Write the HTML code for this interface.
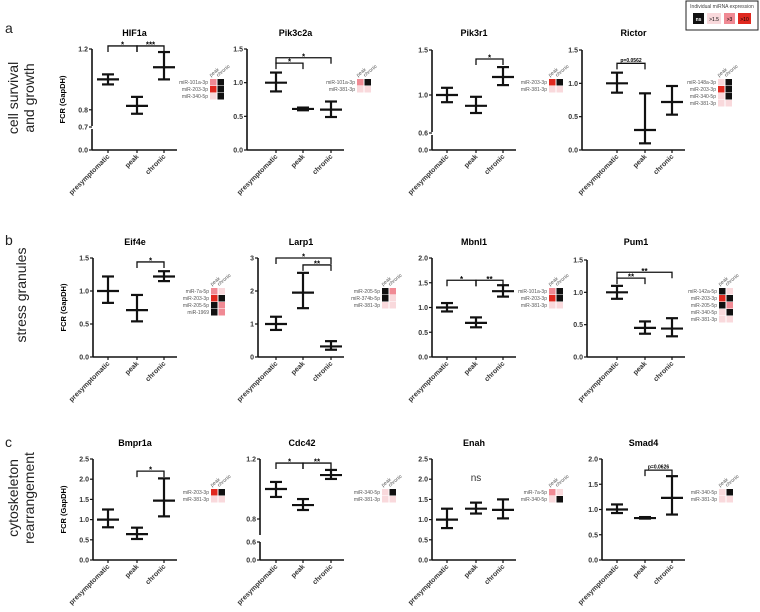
<!DOCTYPE html>
<html><head><meta charset="utf-8"><style>
html,body{margin:0;padding:0;background:#fff}
svg{display:block;font-family:"Liberation Sans",Arial,sans-serif}
</style></head><body>
<svg id="fig" width="760" height="612" viewBox="0 0 760 612">
<g>
<rect x="686" y="1" width="72" height="29" fill="#fff" stroke="#222" stroke-width="1"/>
<text x="722" y="8" font-size="5" text-anchor="middle" fill="#444">Individual miRNA expression</text>
<rect x="693" y="13" width="11" height="11" fill="#111"/><text x="698.5" y="21" font-size="5" fill="#fff" text-anchor="middle" font-weight="bold">ns</text>
<rect x="707" y="13" width="14" height="11" fill="#f9d9dc"/><text x="714" y="21" font-size="5" text-anchor="middle">&gt;1.5</text>
<rect x="724" y="13" width="11" height="11" fill="#f08a94"/><text x="729.5" y="21" font-size="5" text-anchor="middle">&gt;3</text>
<rect x="738" y="13" width="13" height="11" fill="#e0281f"/><text x="744.5" y="21" font-size="5" text-anchor="middle">&gt;10</text>
</g>
<g font-size="14" fill="#222">
<text x="5" y="33">a</text>
<text x="5" y="245">b</text>
<text x="5" y="447">c</text>
<text transform="translate(18,98) rotate(-90)" text-anchor="middle">cell survival</text>
<text transform="translate(34,98) rotate(-90)" text-anchor="middle">and growth</text>
<text transform="translate(26,295) rotate(-90)" text-anchor="middle">stress granules</text>
<text transform="translate(18,498) rotate(-90)" text-anchor="middle">cytoskeleton</text>
<text transform="translate(34,498) rotate(-90)" text-anchor="middle">rearrangement</text>
</g>
</svg>
<script>
// ---- data ----
const categories = ["presymptomatic","peak","chronic"];
const titles = ["HIF1a","Pik3c2a","Pik3r1","Rictor","Eif4e","Larp1","Mbnl1","Pum1","Bmpr1a","Cdc42","Enah","Smad4"];
const means = [[1.0,0.826,1.08],[1.0,0.61,0.6],[1.0,0.88,1.2],[1.0,0.3,0.72],[1.0,0.71,1.22],[1.0,1.95,0.32],[1.0,0.69,1.33],[1.0,0.45,0.44],[1.0,0.64,1.47],[1.0,0.893,1.093],[1.0,1.27,1.24],[1.0,0.83,1.23]];
const lows = [[0.967,0.774,1.0],[0.87,0.59,0.49],[0.92,0.8,1.11],[0.86,0.1,0.53],[0.82,0.54,1.15],[0.82,1.48,0.22],[0.92,0.6,1.22],[0.9,0.36,0.32],[0.81,0.52,1.08],[0.947,0.86,1.067],[0.79,1.15,1.03],[0.93,0.82,0.9]];
const highs = [[1.033,0.885,1.18],[1.15,0.63,0.72],[1.08,0.98,1.31],[1.16,0.85,0.96],[1.22,0.94,1.3],[1.22,2.55,0.48],[1.09,0.8,1.45],[1.1,0.55,0.6],[1.25,0.8,2.02],[1.047,0.933,1.127],[1.27,1.42,1.5],[1.1,0.85,1.66]];
const yMin = [0.7,0,0.6,0,0,0,0,0,0,0.8,0,0];
const yMax = [1.2,1.5,1.5,1.5,1.5,3,2,1.5,2.5,1.2,2.5,2];
const tickLabels = [["0.8","1.2"],["0.0","0.5","1.0","1.5"],["1.0","1.5"],["0.0","0.5","1.0","1.5"],["0.0","0.5","1.0","1.5"],["0","1","2","3"],["0.0","0.5","1.0","1.5","2.0"],["0.0","0.5","1.0","1.5"],["0.0","0.5","1.0","1.5","2.0","2.5"],["0.8","1.2"],["0.0","0.5","1.0","1.5","2.0","2.5"],["0.0","0.5","1.0","1.5","2.0"]];
const breakLabels = [["0.0","0.7"],[],["0.0","0.6"],[],[],[],[],[],[],["0.0","0.6"],[],[]];
// brackets: [panel, from, to, value, label]
const brackets = [[0,0,1,1.22,"*"],[0,1,2,1.22,"***"],[1,0,1,1.29,"*"],[1,0,2,1.37,"*"],[2,1,2,1.4,"*"],[3,0,1,1.3,"p=0.0562"],[4,1,2,1.44,"*"],[5,0,2,3.0,"*"],[5,1,2,2.79,"**"],[6,0,1,1.55,"*"],[6,1,2,1.55,"**"],[7,0,1,1.22,"**"],[7,0,2,1.31,"**"],[8,1,2,2.2,"*"],[9,0,1,1.173,"*"],[9,1,2,1.173,"**"],[11,1,2,1.78,"p=0.0626"]];
const heatNames = [["miR-101a-3p","miR-203-3p","miR-340-5p"],["miR-101a-3p","miR-381-3p"],["miR-203-3p","miR-381-3p"],["miR-148a-3p","miR-203-3p","miR-340-5p","miR-381-3p"],["miR-7a-5p","miR-203-3p","miR-205-5p","miR-1969"],["miR-205-5p","miR-374b-5p","miR-381-3p"],["miR-101a-3p","miR-203-3p","miR-381-3p"],["miR-142a-5p","miR-203-3p","miR-205-5p","miR-340-5p","miR-381-3p"],["miR-203-3p","miR-381-3p"],["miR-340-5p","miR-381-3p"],["miR-7a-5p","miR-340-5p"],["miR-340-5p","miR-381-3p"]];
const heatPeak = [[2,3,1],[2,1],[3,1],[1,3,1,1],[2,3,0,0],[0,0,1],[2,3,1],[0,3,0,1,1],[3,1],[1,1],[2,1],[1,1]];
const heatChronic = [[0,0,0],[0,1],[0,1],[0,0,0,1],[1,0,2,2],[2,1,1],[0,0,1],[1,0,2,0,1],[0,1],[0,1],[1,0],[0,1]];
// ---- layout ----
const heatColors = ["#111","#f9d9dc","#f08a94","#e0281f"];
const rowTop=[49,258,459], rowBot=[150,357,560];
const colCats=[[108,137,164],[276,303,331],[447,476,503],[617,645,672]];
const axisX=[92,247,432,582,93,258,432,587,93,260,432,602];
const heatX=[210,357,549,718,211,382,549,719,211,382,549,719];
const yTop=[49,49,50,50,258,258,258,260,459,459,459,459];
const yLow=[125,150,131,150,357,357,357,357,560,519,560,560];
const svg=document.getElementById('fig');
const NS='http://www.w3.org/2000/svg';
function mk(tag,attrs,parent){const e=document.createElementNS(NS,tag);for(const k in attrs)e.setAttribute(k,attrs[k]);parent.appendChild(e);return e;}
titles.forEach((t,i)=>{
  const r=Math.floor(i/4), c=i%4, top=rowTop[r], bot=rowBot[r];
  const ax=axisX[i], cx=colCats[c];
  const g=mk('g',{},svg);
  
  
  const y=v=>yLow[i]+(v-yMin[i])/(yMax[i]-yMin[i])*(yTop[i]-yLow[i]);
  const tt=mk('text',{x:(ax+cx[2]+13)/2,y:top-13,'font-size':9,'font-weight':'bold','text-anchor':'middle'},g);
  tt.textContent=t;
  
  
  const xEnd=cx[2]+13;
  const broken=breakLabels[i].length>0;
  if(broken){
    const upEnd = i===9? 535 : yLow[i]+1;
    mk('line',{x1:ax,y1:yTop[i],x2:ax,y2:upEnd,stroke:'#111','stroke-width':1.6},g);
    const lowStart = i===9? 542 : yLow[i]+4;
    mk('line',{x1:ax,y1:lowStart,x2:ax,y2:bot,stroke:'#111','stroke-width':1.6},g);
    const bl=[bot, i===9?542:yLow[i]+2];
    breakLabels[i].forEach((lb,k)=>{
      mk('line',{x1:ax-3,y1:bl[k],x2:ax,y2:bl[k],stroke:'#111','stroke-width':1.2},g);
      const tx=mk('text',{x:ax-4,y:bl[k]+2.5,'font-size':7,'font-weight':'bold','text-anchor':'end',fill:'#333'},g);
      tx.textContent=lb;
    });
  } else {
    mk('line',{x1:ax,y1:yTop[i],x2:ax,y2:bot,stroke:'#111','stroke-width':1.6},g);
  }
  tickLabels[i].forEach(lb=>{
    const yy=y(parseFloat(lb));
    mk('line',{x1:ax-3,y1:yy,x2:ax,y2:yy,stroke:'#111','stroke-width':1.2},g);
    const tx=mk('text',{x:ax-4,y:yy+2.5,'font-size':7,'font-weight':'bold','text-anchor':'end',fill:'#333'},g);
    tx.textContent=lb;
  });
  mk('line',{x1:ax,y1:bot,x2:xEnd,y2:bot,stroke:'#111','stroke-width':1.6},g);
  categories.forEach((cat,k)=>{
    mk('line',{x1:cx[k],y1:bot,x2:cx[k],y2:bot+3,stroke:'#111','stroke-width':1.2},g);
    const tx=mk('text',{transform:`translate(${cx[k]+2},${bot+7}) rotate(-45)`,'font-size':7,'font-weight':'bold','text-anchor':'end',fill:'#333'},g);
    tx.textContent=cat;
    
    
    const eb=mk('g',{stroke:'#111','stroke-width':2.2},g);
    
    
    mk('line',{x1:cx[k],y1:y(lows[i][k]),x2:cx[k],y2:y(highs[i][k])},eb);
    mk('line',{x1:cx[k]-6,y1:y(lows[i][k]),x2:cx[k]+6,y2:y(lows[i][k])},eb);
    mk('line',{x1:cx[k]-6,y1:y(highs[i][k]),x2:cx[k]+6,y2:y(highs[i][k])},eb);
    mk('line',{x1:cx[k]-11,y1:y(means[i][k]),x2:cx[k]+11,y2:y(means[i][k])},eb);
  });
  if(c===0){
    const yl=mk('text',{transform:`translate(${ax-27},${(top+bot)/2}) rotate(-90)`,'font-size':7.5,'font-weight':'bold','text-anchor':'middle'},g);
    yl.textContent='FCR (GapDH)';
    
    
  }
  if(i===10){
    const ns=mk('text',{x:cx[1],y:y(1.95),'font-size':10,'text-anchor':'middle',fill:'#333'},g);
    ns.textContent='ns';
  }
  const hx=heatX[i], hy=top+30;
  const hg=mk('g',{},g);
  
  
  const h1=mk('text',{transform:`translate(${hx+1},${hy-2}) rotate(-40)`,'font-size':5,fill:'#555'},hg); h1.textContent='peak';
  const h2=mk('text',{transform:`translate(${hx+8},${hy-2}) rotate(-40)`,'font-size':5,fill:'#555'},hg); h2.textContent='chronic';
  heatNames[i].forEach((nm,k)=>{
    const ry=hy+k*7;
    const tx=mk('text',{x:hx-2,y:ry+5,'font-size':5,'text-anchor':'end',fill:'#555'},hg); tx.textContent=nm;
    mk('rect',{x:hx,y:ry,width:6.5,height:6.5,fill:heatColors[heatPeak[i][k]]},hg);
    mk('rect',{x:hx+7.5,y:ry,width:6.5,height:6.5,fill:heatColors[heatChronic[i][k]]},hg);
  });
});
brackets.forEach(b=>{
  const i=b[0], c=i%4, cx=colCats[c];
  const yy=yLow[i]+(b[3]-yMin[i])/(yMax[i]-yMin[i])*(yTop[i]-yLow[i]);
  const g=mk('g',{},svg);
  
  
  mk('polyline',{points:`${cx[b[1]]},${yy+6} ${cx[b[1]]},${yy} ${cx[b[2]]},${yy} ${cx[b[2]]},${yy+6}`,fill:'none',stroke:'#111','stroke-width':1.3},g);
  const small=b[4].startsWith('p');
  const tx=mk('text',{x:(cx[b[1]]+cx[b[2]])/2,y:yy-1.5+(small?0:3),'font-size':small?5:8,'font-weight':'bold','text-anchor':'middle'},g);
  tx.textContent=b[4];
});
</script>
</body></html>
